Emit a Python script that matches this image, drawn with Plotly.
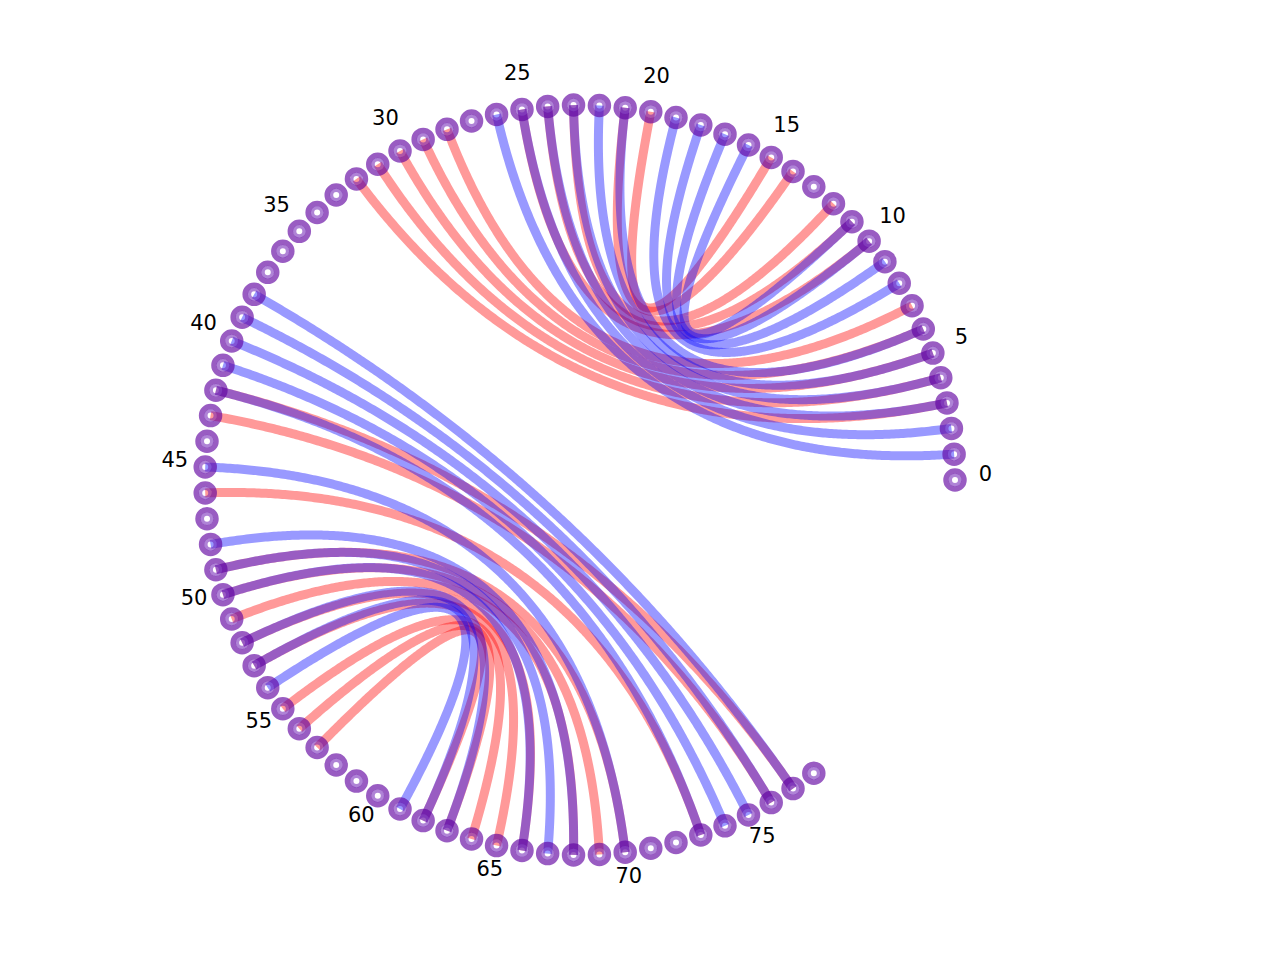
import numpy as np
import plotly.graph_objects as go

# circle layout: 79 nodes on 91 equally spaced slots, counter-clockwise from the right
n_nodes = 79
n_slots = 91
tick_nodes = [0, 5, 10, 15, 20, 25, 30, 35, 40, 45, 50, 55, 60, 65, 70, 75]

# pairings of the two structures (red drawn first, blue on top)
red_pairs = [
    (3, 32), (4, 31), (5, 30), (6, 29), (7, 28),
    (10, 25), (11, 24), (12, 23), (14, 21), (15, 20),
    (42, 77), (43, 76), (46, 73),
    (49, 70), (50, 69), (51, 68), (52, 66), (53, 65), (55, 64), (56, 63), (57, 62),
]
blue_pairs = [
    (1, 26), (2, 25), (3, 24), (4, 23), (5, 22), (6, 21),
    (8, 19), (9, 18), (10, 17), (11, 16),
    (38, 77), (39, 76), (40, 75), (41, 74), (42, 73), (45, 70),
    (48, 68), (49, 67), (50, 66), (52, 63), (53, 62), (54, 61),
]

RED = "rgba(255,0,0,0.4)"
BLUE = "rgba(0,0,255,0.4)"
RING_OUT = "rgba(96,0,160,0.64)"
RING_IN = "rgba(110,30,180,0.55)"

ang = 2 * np.pi * np.arange(n_nodes) / n_slots
px = np.cos(ang)
py = np.sin(ang)


def curve(i, j, n=300):
    # quadratic bezier with its control point in the centre of the circle
    t = np.linspace(0, 1, n)
    x = (1 - t) ** 2 * px[i] + t ** 2 * px[j]
    y = (1 - t) ** 2 * py[i] + t ** 2 * py[j]
    return x, y


fig = go.Figure()

for pairs, col in ((red_pairs, RED), (blue_pairs, BLUE)):
    for i, j in pairs:
        x, y = curve(i, j)
        fig.add_trace(go.Scatter(x=x, y=y, mode="lines",
                                 line=dict(color=col, width=9, simplify=False),
                                 hoverinfo="skip", showlegend=False))

# node rings: darker outer band, lighter inner band
fig.add_trace(go.Scatter(x=px, y=py, mode="markers",
                         marker=dict(symbol="circle-open", size=18, color=RING_OUT,
                                     line=dict(width=5.5)),
                         hoverinfo="skip", showlegend=False))
fig.add_trace(go.Scatter(x=px, y=py, mode="markers",
                         marker=dict(symbol="circle-open", size=9.5, color=RING_IN,
                                     line=dict(width=3.5)),
                         hoverinfo="skip", showlegend=False))

lab_r = 1.081
fig.add_trace(go.Scatter(
    x=[lab_r * px[k] for k in tick_nodes],
    y=[lab_r * py[k] + 0.012 for k in tick_nodes],
    mode="text", text=[str(k) for k in tick_nodes],
    textposition="middle center",
    textfont=dict(family="DejaVu Sans", size=21, color="black"),
    hoverinfo="skip", showlegend=False))

# page body adds an 8 px offset, so the centre sits at (572, 472) inside the figure
scale = 375.0
cx, cy = 572, 472
fig.update_layout(
    width=1280, height=960,
    margin=dict(l=0, r=0, t=0, b=0),
    paper_bgcolor="white", plot_bgcolor="white",
    xaxis=dict(range=[-cx / scale, (1280 - cx) / scale], visible=False),
    yaxis=dict(range=[-(960 - cy) / scale, cy / scale], visible=False),
)

fig.write_html("out.html")
